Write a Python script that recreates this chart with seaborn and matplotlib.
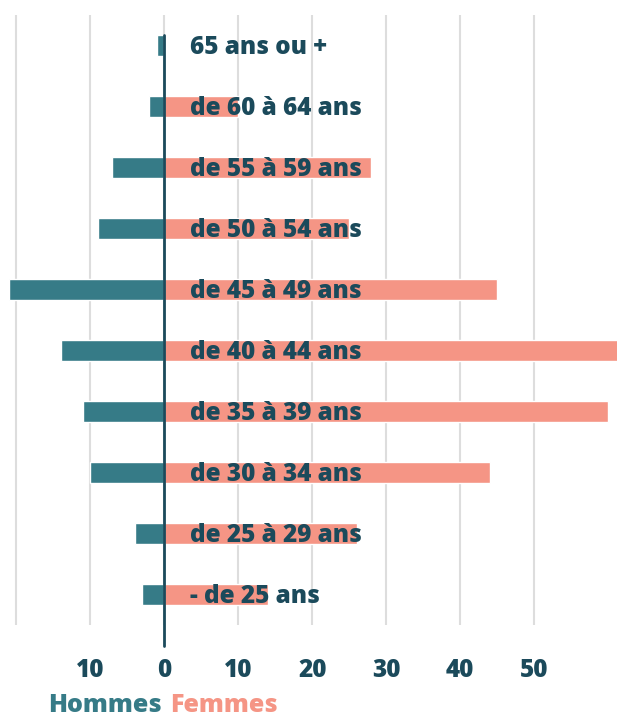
#!/usr/bin/env python3
"""Pyramide des ages : Hommes / Femmes par tranche d'age."""

import matplotlib
matplotlib.use("Agg")
import matplotlib.pyplot as plt
import pandas as pd
import seaborn as sns

AGES = [
    "65 ans ou +",
    "de 60 à 64 ans",
    "de 55 à 59 ans",
    "de 50 à 54 ans",
    "de 45 à 49 ans",
    "de 40 à 44 ans",
    "de 35 à 39 ans",
    "de 30 à 34 ans",
    "de 25 à 29 ans",
    "- de 25 ans",
]
HOMMES = [1, 2, 7, 9, 21, 14, 11, 10, 4, 3]
FEMMES = [0, 10, 28, 25, 45, 62, 60, 44, 26, 14]
TICKS = [-20, -10, 0, 10, 20, 30, 40, 50]
TICK_LABELS = ["", "10", "0", "10", "20", "30", "40", "50"]

TEAL = "#367b87"
SALMON = "#f59585"
DARK = "#1b4a5b"
FONT = ["Open Sans", "DejaVu Sans"]

sns.set_style("white")
plt.rcParams["font.family"] = FONT

df = pd.concat([
    pd.DataFrame({"age": AGES, "valeur": [-v for v in HOMMES], "sexe": "Hommes"}),
    pd.DataFrame({"age": AGES, "valeur": FEMMES, "sexe": "Femmes"}),
])

fig = plt.figure(figsize=(6.17, 7.22), dpi=100)
ax = fig.add_axes([0, 97 / 722, 1, 610 / 722])

sns.barplot(data=df, x="valeur", y="age", hue="sexe", order=AGES,
            palette={"Hommes": TEAL, "Femmes": SALMON}, dodge=False,
            saturation=1, width=0.36, orient="h", legend=False, ax=ax,
            zorder=2)

ax.set_xlim(-22.2, 61.2)
ax.set_ylim(9.5, -0.5)
ax.set_xticks(TICKS)
ax.set_xticklabels(TICK_LABELS, fontsize=17.5, fontweight=800, color=DARK)
ax.tick_params(axis="x", length=0, pad=24)
ax.set_yticks([])
ax.set_xlabel("")
ax.set_ylabel("")
ax.grid(axis="x", color="#dddddd", linewidth=1.5, zorder=0)
ax.set_axisbelow(True)
for s in ax.spines.values():
    s.set_visible(False)

ax.axvline(0, ymin=-0.034, ymax=0.967, color=DARK, linewidth=2,
           clip_on=False, zorder=4)

for i, label in enumerate(AGES):
    ax.text(3.5, i + 0.03, label, ha="left", va="center", fontsize=17.5,
            fontweight=800, color=DARK, zorder=5)

fig.text(48 / 617, 16 / 722, "Hommes", ha="left", va="center",
         fontsize=18, fontweight=800, color=TEAL)
fig.text(170 / 617, 16 / 722, "Femmes", ha="left", va="center",
         fontsize=18, fontweight=800, color=SALMON)

fig.savefig("out.png", dpi=100)
